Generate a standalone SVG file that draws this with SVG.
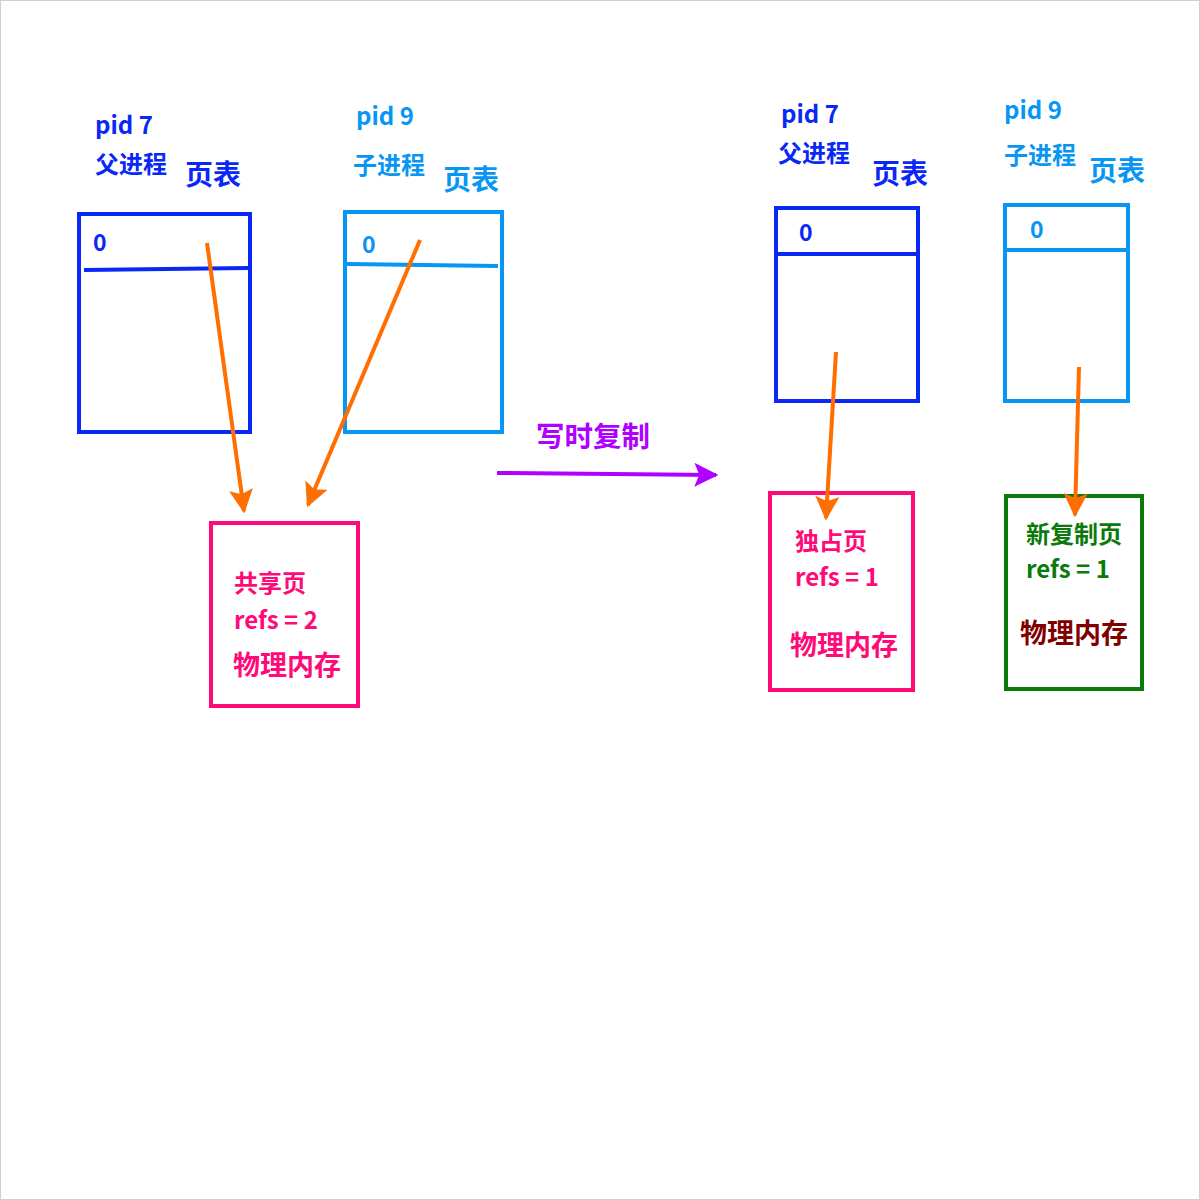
<svg xmlns="http://www.w3.org/2000/svg" width="1200" height="1200" viewBox="0 0 1200 1200">
<defs>
<style>
text{font-family:"Noto Sans CJK SC","Noto Sans",sans-serif;font-weight:bold}
.db{fill:#0a28f5}.lb{fill:#0896f5}.pk{fill:#ff0a78}.gr{fill:#0a7a0a}.dr{fill:#800000}.pu{fill:#b000ff}
.box{fill:none;stroke-width:4}
.orange{stroke:#ff6e00;stroke-width:4;fill:none}
</style>
<marker id="ah" viewBox="0 0 10 10" refX="9" refY="5" markerWidth="6" markerHeight="6" markerUnits="strokeWidth" orient="auto"><path d="M0,0L10,5L0,10L2,5Z" fill="#ff6e00"/></marker>
<marker id="ahp" viewBox="0 0 10 10" refX="9" refY="5" markerWidth="6" markerHeight="6" markerUnits="strokeWidth" orient="auto"><path d="M0,0L10,5L0,10L2,5Z" fill="#b000ff"/></marker>
</defs>
<rect x="0" y="0" width="1200" height="1200" fill="#fff"/>
<rect x="0.5" y="0.5" width="1199" height="1199" fill="none" stroke="#d0d0d0"/>
<g id="pt-parent-left">
<text x="95" y="134" font-size="24" class="db">pid 7</text>
<text x="95" y="173" font-size="24" class="db">父进程</text>
<text x="185" y="185" font-size="28" class="db">页表</text>
<rect x="79" y="214" width="171" height="218" class="box" stroke="#0a28f5"/>
<path d="M84 270L248 268" class="box" stroke="#0a28f5"/>
<text x="93" y="251" font-size="23" class="db">0</text>
</g>
<g id="pt-child-left">
<text x="356" y="125" font-size="24" class="lb">pid 9</text>
<text x="353" y="174" font-size="24" class="lb">子进程</text>
<text x="443" y="190" font-size="28" class="lb">页表</text>
<rect x="345" y="212" width="157" height="220" class="box" stroke="#0896f5"/>
<path d="M347 264L498 266" class="box" stroke="#0896f5"/>
<text x="362" y="253" font-size="23" class="lb">0</text>
</g>
<g id="shared-page">
<rect x="211" y="523" width="147" height="183" class="box" stroke="#ff0a78"/>
<text x="234" y="592" font-size="24" class="pk">共享页</text>
<text x="234" y="629" font-size="24" class="pk">refs = 2</text>
<text x="233" y="675" font-size="27" class="pk">物理内存</text>
</g>
<g id="cow-label">
<text x="536" y="447" font-size="28.5" class="pu">写时复制</text>
</g>
<g id="pt-parent-right">
<text x="781" y="123" font-size="24" class="db">pid 7</text>
<text x="778" y="162" font-size="24" class="db">父进程</text>
<text x="872" y="184" font-size="28" class="db">页表</text>
<rect x="776" y="208" width="142" height="193" class="box" stroke="#0a28f5"/>
<path d="M776 254L918 254" class="box" stroke="#0a28f5"/>
<text x="799" y="241" font-size="23" class="db">0</text>
</g>
<g id="pt-child-right">
<text x="1004" y="119" font-size="24" class="lb">pid 9</text>
<text x="1004" y="164" font-size="24" class="lb">子进程</text>
<text x="1089" y="181" font-size="28" class="lb">页表</text>
<rect x="1005" y="205" width="123" height="196" class="box" stroke="#0896f5"/>
<path d="M1005 250L1128 250" class="box" stroke="#0896f5"/>
<text x="1030" y="238" font-size="23" class="lb">0</text>
</g>
<g id="exclusive-page">
<rect x="770" y="493" width="143" height="197" class="box" stroke="#ff0a78"/>
<text x="795" y="550" font-size="24" class="pk">独占页</text>
<text x="795" y="586" font-size="24" class="pk">refs = 1</text>
<text x="790" y="655" font-size="27" class="pk">物理内存</text>
</g>
<g id="new-page">
<rect x="1006" y="496" width="136" height="193" class="box" stroke="#0a7a0a"/>
<text x="1026" y="543" font-size="24" class="gr">新复制页</text>
<text x="1026" y="578" font-size="24" class="gr">refs = 1</text>
<text x="1020" y="643" font-size="27" class="dr">物理内存</text>
</g>
<g id="connectors">
<path d="M207 243L244 511" class="orange" marker-end="url(#ah)"/>
<path d="M420 240L308 505" class="orange" marker-end="url(#ah)"/>
<path d="M497 473L716 475" stroke="#b000ff" stroke-width="4" fill="none" marker-end="url(#ahp)"/>
<path d="M836 352L826 518" class="orange" marker-end="url(#ah)"/>
<path d="M1079 367L1075 515" class="orange" marker-end="url(#ah)"/>
</g>
</svg>
